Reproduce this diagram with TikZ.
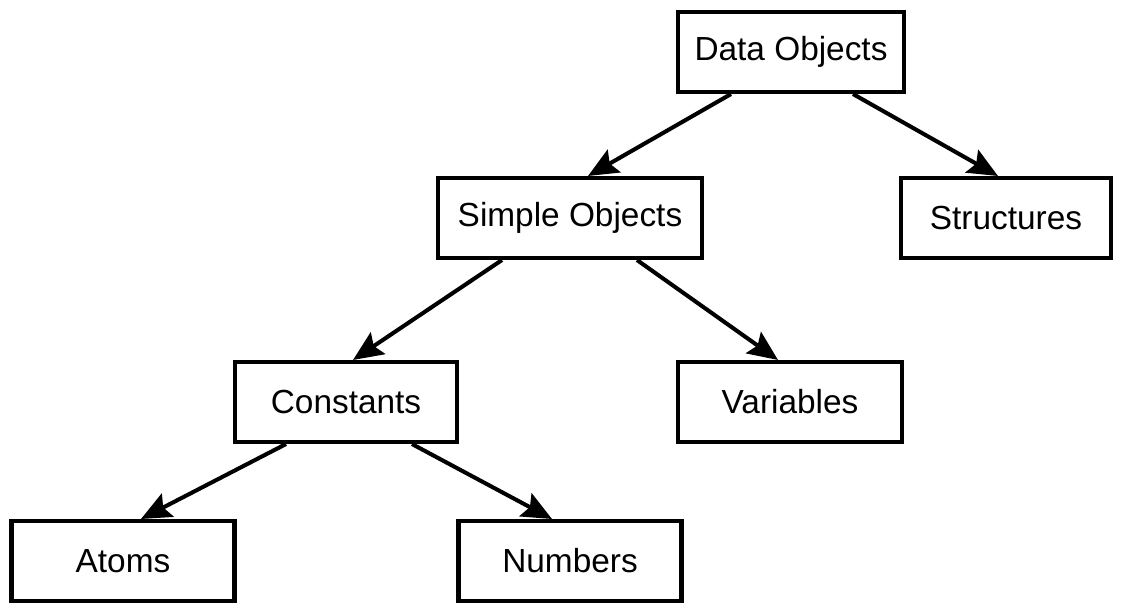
\documentclass[tikz,border=0pt]{standalone}
\usepackage{fontspec}
\setmainfont{Liberation Sans}
\usetikzlibrary{arrows.meta}
\begin{document}
\begin{tikzpicture}[box/.style = {draw,line width=2.3pt,minimum height=1.6cm,inner sep=0pt,font=\fontsize{19}{23}\selectfont},
                    arrow/.style = {line width=2.3pt,-{Stealth[length=0.6cm,width=0.52cm,inset=0.1cm]}}]
                    \useasboundingbox (0,0) rectangle (22.42,-12.06);

                    \node[box,minimum width=4.52cm] (dobj) at (15.82,-1.04) {Data Objects};
                    \node[box,minimum width=5.28cm] (sobj) at (11.40,-4.36) {Simple Objects};
                    \node[box,minimum width=4.20cm] (struct) at (20.12,-4.36) {Structures};
                    \node[box,minimum width=4.44cm] (const) at (6.92,-8.04) {Constants};
                    \node[box,minimum width=4.48cm] (var) at (15.80,-8.04) {Variables};
                    \node[box,minimum width=4.46cm] (atoms) at (2.46,-11.22) {Atoms};
                    \node[box,minimum width=4.46cm] (num) at (11.40,-11.22) {Numbers};

                    \draw[arrow] ([xshift=-1.2cm]dobj.south) -- ([xshift=0.36cm]sobj.north);
                    \draw[arrow] ([xshift=1.24cm]dobj.south) -- ([xshift=-0.16cm]struct.north);
                    \draw[arrow] ([xshift=-1.36cm]sobj.south) -- ([xshift=0.14cm]const.north);
                    \draw[arrow] ([xshift=1.34cm]sobj.south) -- ([xshift=-0.24cm]var.north);
                    \draw[arrow] ([xshift=-1.2cm]const.south) -- ([xshift=0.36cm]atoms.north);
                    \draw[arrow] ([xshift=1.32cm]const.south) -- ([xshift=-0.36cm]num.north);
                \end{tikzpicture}
\end{document}
